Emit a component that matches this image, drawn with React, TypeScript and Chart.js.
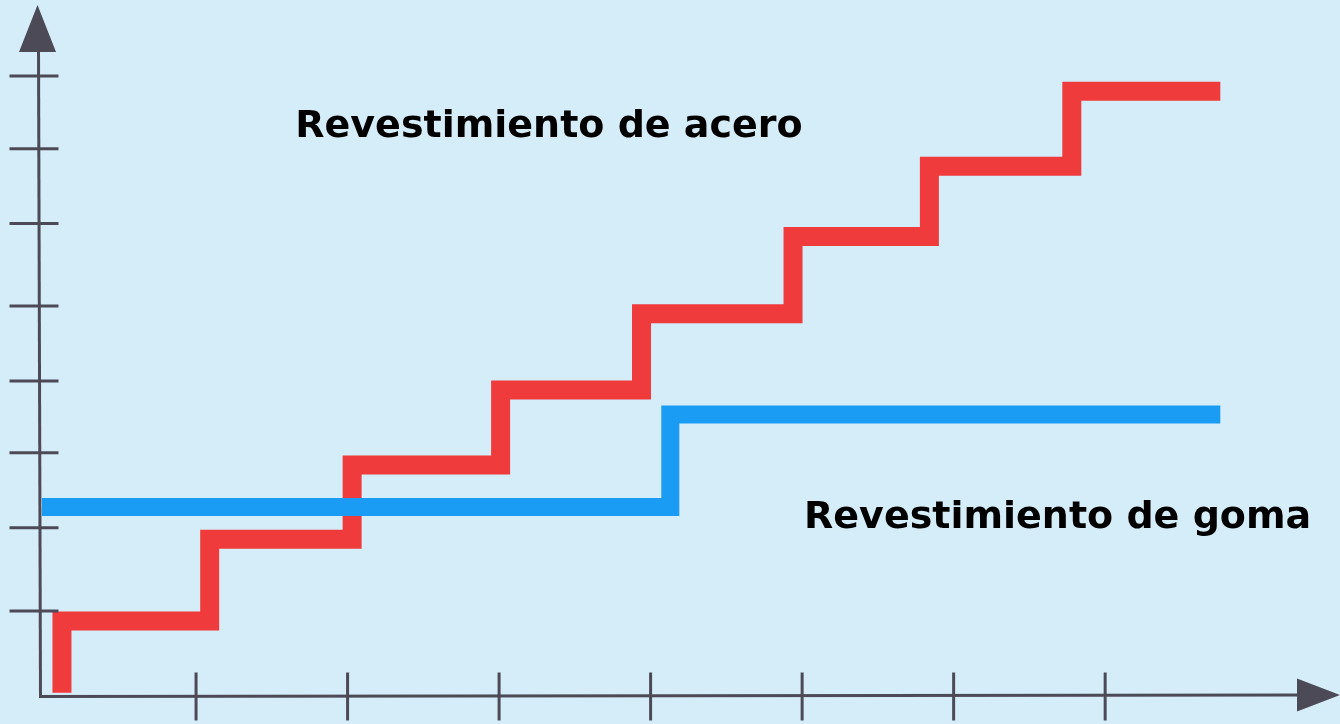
import React, { useEffect, useRef } from "react";
import { Chart, registerables } from "chart.js";

Chart.register(...registerables);

// Red step line: "Revestimiento de acero"
const redX = [0.115, 0.115, 1.09, 2.03, 3.01, 3.94, 4.94, 5.84, 6.78, 7.76];
const redY = [-0.07, 0.869, 1.94, 2.91, 3.89, 4.89, 5.9, 6.82, 7.8, 7.8];

// Blue step line: "Revestimiento de goma"
const blueX = [-0.017, 4.13, 7.76];
const blueY = [2.36, 3.57, 3.57];

// Axis tick positions (no tick labels in the original)
const xTicks = [1, 2, 3, 4, 5, 6, 7];
const yTicks = [1.0, 2.09, 3.07, 4.01, 4.99, 6.07, 7.05, 8.0];

const labelTop = "Revestimiento de acero";
const labelBottom = "Revestimiento de goma";

const BG = "#d5edf8";
const AXIS = "#4c4a56";
const RED = "#ef3b3b";
const BLUE = "#1a9cf4";

const axesPlugin = {
  id: "axesPlugin",
  beforeDraw(chart: any) {
    const ctx = chart.ctx;
    ctx.save();
    ctx.fillStyle = BG;
    ctx.fillRect(0, 0, chart.width, chart.height);
    ctx.restore();
  },
  afterDatasetsDraw(chart: any) {
    const ctx = chart.ctx;
    const xs = chart.scales.x;
    const ys = chart.scales.y;
    const ax = xs.getPixelForValue(xs.min) + 0.5;
    const ay = ys.getPixelForValue(ys.min) - 0.5;
    const top = chart.chartArea.top;
    const right = chart.chartArea.right;
    ctx.save();
    ctx.strokeStyle = AXIS;
    ctx.fillStyle = AXIS;
    ctx.lineWidth = 3;
    ctx.lineCap = "butt";
    // y axis line
    ctx.beginPath();
    ctx.moveTo(ax, ay + 1.5);
    ctx.lineTo(ax - 2, top + 40);
    ctx.stroke();
    // x axis line
    ctx.beginPath();
    ctx.moveTo(ax - 1.5, ay);
    ctx.lineTo(right - 35, ay - 1.5);
    ctx.stroke();
    // y arrow
    ctx.beginPath();
    ctx.moveTo(ax - 3, top);
    ctx.lineTo(ax - 21.5, top + 47);
    ctx.lineTo(ax + 15.5, top + 47);
    ctx.closePath();
    ctx.fill();
    // x arrow
    ctx.beginPath();
    ctx.moveTo(right, ay - 1.5);
    ctx.lineTo(right - 43, ay - 18);
    ctx.lineTo(right - 43, ay + 15);
    ctx.closePath();
    ctx.fill();
    // y tick marks
    ctx.lineWidth = 3;
    yTicks.forEach((v) => {
      const py = ys.getPixelForValue(v);
      ctx.beginPath();
      ctx.moveTo(ax - 31, py);
      ctx.lineTo(ax + 18, py);
      ctx.stroke();
    });
    // x tick marks
    xTicks.forEach((v) => {
      const px = xs.getPixelForValue(v);
      ctx.beginPath();
      ctx.moveTo(px, ay - 24);
      ctx.lineTo(px, ay + 24);
      ctx.stroke();
    });
    // labels
    ctx.fillStyle = "#000000";
    ctx.font = "bold 38px 'DejaVu Sans', Verdana, sans-serif";
    ctx.textBaseline = "alphabetic";
    ctx.textAlign = "left";
    ctx.fillText(labelTop, xs.getPixelForValue(1.655), ys.getPixelForValue(7.2));
    ctx.fillText(labelBottom, xs.getPixelForValue(5.013), ys.getPixelForValue(2.085));
    ctx.restore();
  },
};

export default function App() {
  const canvasRef = useRef<HTMLCanvasElement | null>(null);

  useEffect(() => {
    if (!canvasRef.current) return;
    const chart = new Chart(canvasRef.current, {
      type: "line",
      data: {
        datasets: [
          {
            label: labelBottom,
            data: blueX.map((x, i) => ({ x, y: blueY[i] })),
            borderColor: BLUE,
            backgroundColor: BLUE,
            borderWidth: 18,
            stepped: "before",
            pointRadius: 0,
            borderJoinStyle: "miter",
            borderCapStyle: "butt",
            fill: false,
            clip: false,
          },
          {
            label: labelTop,
            data: redX.map((x, i) => ({ x, y: redY[i] })),
            borderColor: RED,
            backgroundColor: RED,
            borderWidth: 19,
            stepped: "before",
            pointRadius: 0,
            borderJoinStyle: "miter",
            borderCapStyle: "butt",
            fill: false,
            clip: false,
          },
        ],
      },
      options: {
        animation: false,
        responsive: true,
        maintainAspectRatio: false,
        layout: { padding: { left: 40, right: 0, top: 5, bottom: 27 } },
        scales: {
          x: { type: "linear", display: false, min: -0.03, max: 8.55 },
          y: { type: "linear", display: false, min: -0.126, max: 8.93 },
        },
        plugins: {
          legend: { display: false },
          tooltip: { enabled: false },
        },
        events: [],
      },
      plugins: [axesPlugin],
    } as any);
    return () => chart.destroy();
  }, []);

  return (
    <div
      style={{
        position: "fixed",
        left: 0,
        top: 0,
        width: 1340,
        height: 724,
        background: BG,
      }}
    >
      <canvas ref={canvasRef} />
    </div>
  );
}
